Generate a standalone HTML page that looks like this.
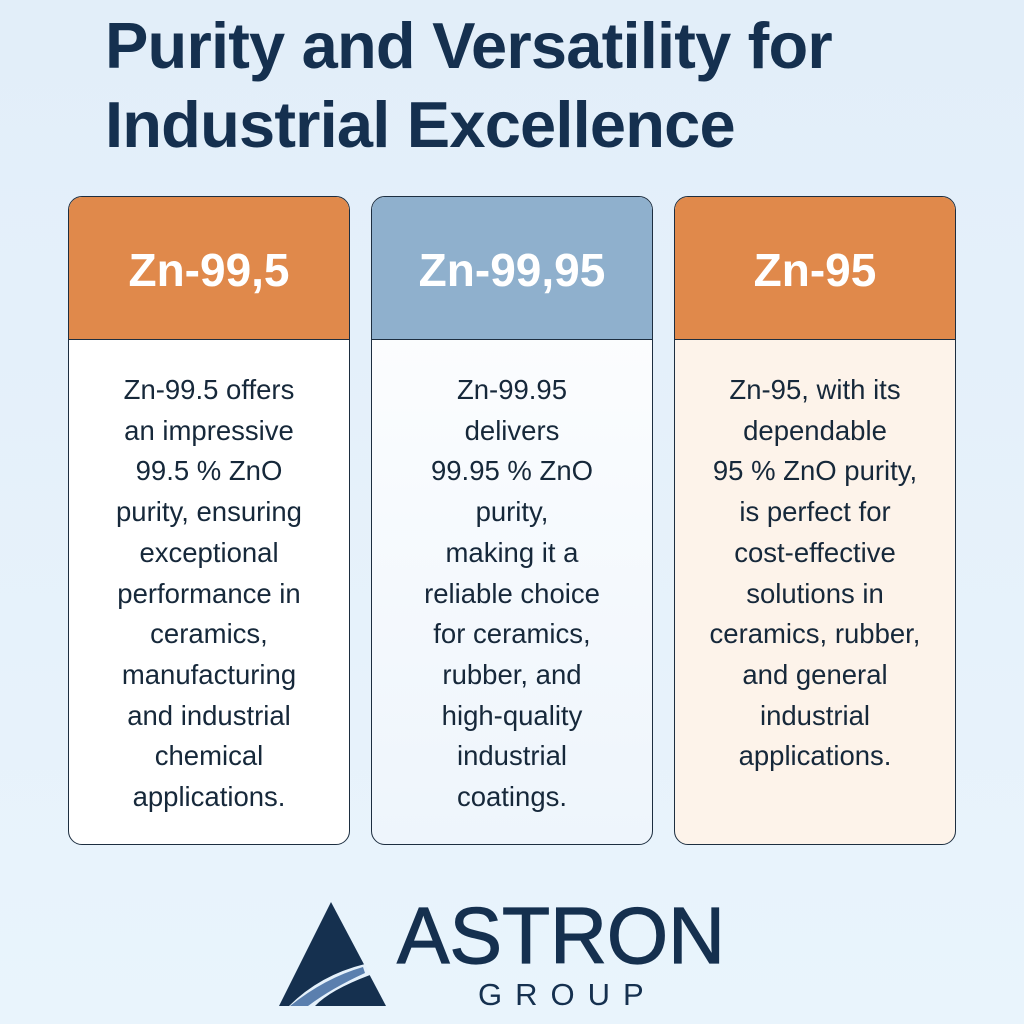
<!DOCTYPE html>
<html><head><style>
body{margin:0;width:1024px;height:1024px;background:linear-gradient(180deg,#e2eef9,#e9f4fc);font-family:"Liberation Sans",sans-serif;position:relative;overflow:hidden;color:#13304f}
h1{position:absolute;left:105px;top:6px;margin:0;font-size:65px;line-height:79px;font-weight:bold;color:#15304f;letter-spacing:-0.8px}
.card{position:absolute;top:196px;width:280px;height:647px;border:1.5px solid #1d2e40;border-radius:14px;overflow:hidden;background:#fff}
.hd{height:142px;border-bottom:1.5px solid #1d2e40;color:#fff;font-weight:bold;font-size:46px;text-align:center;line-height:146px}
.bd{text-align:center;font-size:27.5px;line-height:40.7px;padding-top:30px;color:#16283a}
</style></head><body>
<h1>Purity and Versatility for<br>Industrial Excellence</h1>
<div class="card" style="left:68px"><div class="hd" style="background:#e0894b">Zn-99,5</div><div class="bd">Zn-99.5 offers<br>an impressive<br>99.5 % ZnO<br>purity, ensuring<br>exceptional<br>performance in<br>ceramics,<br>manufacturing<br>and industrial<br>chemical<br>applications.</div></div>
<div class="card" style="left:371px;background:linear-gradient(180deg,#fff,#eef5fc)"><div class="hd" style="background:#8fb0cd">Zn-99,95</div><div class="bd">Zn-99.95<br>delivers<br>99.95 % ZnO<br>purity,<br>making it a<br>reliable choice<br>for ceramics,<br>rubber, and<br>high-quality<br>industrial<br>coatings.</div></div>
<div class="card" style="left:674px;background:#fdf3ea"><div class="hd" style="background:#e0894b">Zn-95</div><div class="bd">Zn-95, with its<br>dependable<br>95 % ZnO purity,<br>is perfect for<br>cost-effective<br>solutions in<br>ceramics, rubber,<br>and general<br>industrial<br>applications.</div></div>
<svg style="position:absolute;left:0;top:0" width="1024" height="1024">
<polygon points="331,902 279,1006 386,1006" fill="#15304f"/>
<path d="M289,1006 Q320,975 365,964 L370,975 Q330,990 315,1006 Z" fill="#e5f1fb"/>
<path d="M290,1006 Q325,978 363,967 L365,973 Q332,988 308,1006 Z" fill="#5a7fae"/>
<text x="397" y="963" font-family="Liberation Sans" font-size="80" fill="#15304f" stroke="#15304f" stroke-width="1.2" textLength="328" lengthAdjust="spacingAndGlyphs">ASTRON</text>
<text x="478" y="1005" font-family="Liberation Sans" font-size="31" fill="#15304f" letter-spacing="13">GROUP</text>
</svg>
</body></html>
